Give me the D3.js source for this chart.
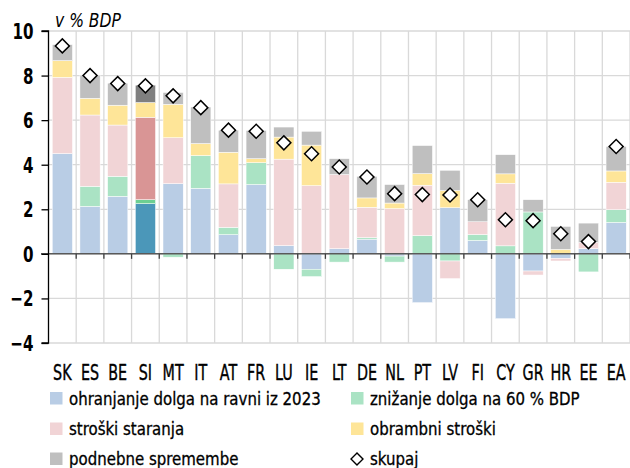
<!DOCTYPE html>
<html><head><meta charset="utf-8">
<script src="https://cdn.jsdelivr.net/npm/d3@7"></script>
<style>
html,body{margin:0;padding:0;background:#fff;}
svg{display:block;font-family:"DejaVu Sans Condensed","DejaVu Sans",sans-serif;}
</style></head>
<body><svg id="c" width="630" height="468"></svg>
<script>
const categories = ["SK","ES","BE","SI","MT","IT","AT","FR","LU","IE","LT","DE","NL","PT","LV","FI","CY","GR","HR","EE","EA"];
const debtStable = [4.50,2.13,2.58,2.25,3.15,2.94,0.86,3.11,0.37,-0.69,0.23,0.66,-0.10,-2.19,2.07,0.60,-2.91,-0.77,-0.20,0.24,1.41];
const debtTo60   = [0.00,0.90,0.90,0.18,-0.15,1.47,0.33,0.98,-0.69,-0.33,-0.37,0.07,-0.27,0.82,-0.32,0.27,0.36,1.88,0.00,-0.81,0.57];
const ageing     = [3.42,3.20,2.30,3.70,2.06,0.00,1.95,0.00,3.88,3.06,3.33,1.36,2.03,2.26,-0.79,0.57,2.81,-0.18,-0.12,0.27,1.23];
const defence    = [0.75,0.75,0.89,0.66,1.50,0.54,1.42,0.18,0.99,1.82,0.00,0.42,0.25,0.52,0.77,0.00,0.42,0.00,0.20,0.00,0.51];
const climate    = [0.72,1.04,0.99,0.78,0.53,1.64,0.99,1.27,0.45,0.62,0.71,0.97,0.83,1.26,0.91,0.99,0.86,0.55,1.03,0.87,1.10];
const totals     = [9.33,8.00,7.64,7.54,7.09,6.56,5.55,5.50,4.98,4.49,3.90,3.45,2.70,2.66,2.64,2.43,1.53,1.49,0.90,0.55,4.82];
const yTicks = [-4,-2,0,2,4,6,8,10];
const seriesNames = ["ohranjanje dolga na ravni iz 2023","znižanje dolga na 60 % BDP","stroški staranja","obrambni stroški","podnebne spremembe"];
const totalName = "skupaj";
const unitLabel = "v % BDP";
const highlight = "SI";

const keys = ["a","b","c","d","e"];
const colors = ["#b9cde5","#aae3c4","#f1d4d6","#fee598","#bfbfbf"];
const hiColors = ["#4b97b9","#6ccf92","#d99595","#fee598","#7f7f7f"];

const rows = categories.map((c,i)=>({cat:c,a:debtStable[i],b:debtTo60[i],c:ageing[i],d:defence[i],e:climate[i],total:totals[i]}));

const svg = d3.select("#c");
const pL = 48.5, pR = 630, pT = 31, pB = 343;
const x = d3.scaleBand().domain(categories).range([pL,pR]).paddingInner(0.27).paddingOuter(0.135);
const y = d3.scaleLinear().domain([-4,10]).range([pB,pT]);

function fitScale(sample, size, weight, style, target){
  const t = svg.append("text").attr("font-size",size).attr("font-weight",weight).attr("font-style",style).text(sample);
  const w = t.node().getComputedTextLength();
  t.remove();
  return w>0 ? Math.min(1.2, target/w) : 1;
}
const fX = fitScale("SK",21,"normal","normal",18.5);
const fY = fitScale("10",21,"bold","normal",21);
const fL = fitScale(seriesNames[0],18,"normal","normal",252);
const fU = fitScale(unitLabel,19,"normal","italic",66);

function placeText(sel, px, py, f){
  sel.attr("x",0).attr("y",0).attr("transform",`translate(${px},${py}) scale(${f},1)`);
}

// grid
const g = svg.append("g");
g.selectAll("line.h").data(yTicks).join("line")
  .attr("x1",pL).attr("x2",pR).attr("y1",d=>y(d)).attr("y2",d=>y(d))
  .attr("stroke","#d9d9d9").attr("stroke-width",1.3);
const step = x.step();
const bounds = d3.range(1,categories.length+1).map(i=>pL+i*step);
g.selectAll("line.v").data(bounds).join("line")
  .attr("x1",d=>d).attr("x2",d=>d).attr("y1",pT).attr("y2",pB)
  .attr("stroke","#d9d9d9").attr("stroke-width",1.3);

// stacks
const stack = d3.stack().keys(keys).offset(d3.stackOffsetDiverging);
const series = stack(rows);
series.forEach((s,si)=>{
  svg.append("g").selectAll("rect").data(s).join("rect")
    .attr("x",d=>x(d.data.cat))
    .attr("width",x.bandwidth())
    .attr("y",d=>y(Math.max(d[0],d[1])))
    .attr("height",d=>Math.abs(y(d[0])-y(d[1])))
    .attr("fill",d=>d.data.cat===highlight?hiColors[si]:colors[si])
    .attr("stroke","#fff").attr("stroke-width",0.5);
});

// zero axis
svg.append("line").attr("x1",41).attr("x2",pR).attr("y1",y(0)).attr("y2",y(0))
  .attr("stroke","#595959").attr("stroke-width",1.5);
svg.append("g").selectAll("line").data(bounds).join("line")
  .attr("x1",d=>d).attr("x2",d=>d).attr("y1",y(0)).attr("y2",y(0)+5)
  .attr("stroke","#404040").attr("stroke-width",1.3);

// y axis
const yAxis = d3.axisLeft(y).tickValues(yTicks).tickSize(7).tickPadding(8).tickFormat(d3.format("d"));
const ya = svg.append("g").attr("transform",`translate(${pL},0)`).call(yAxis);
ya.select(".domain").attr("stroke","#000").attr("stroke-width",1.3).attr("d",`M-7,${pT}H0V${pB}H-7`);
ya.selectAll(".tick line").attr("stroke","#000").attr("stroke-width",1.3);
ya.selectAll(".tick text").attr("font-size",21).attr("font-weight","bold").attr("fill","#000")
  .attr("font-family","'DejaVu Sans Condensed','DejaVu Sans',sans-serif")
  .attr("dy",null).attr("x",0).attr("y",0)
  .attr("transform",`translate(-15,7.5) scale(${fY},1)`);

// x labels
svg.append("g").selectAll("text").data(categories).join("text")
  .attr("text-anchor","middle").attr("font-size",21).attr("fill","#000")
  .attr("stroke","#000").attr("stroke-width",0.35).text(d=>d)
  .each(function(d){ placeText(d3.select(this), x(d)+x.bandwidth()/2, 380, fX); });

// diamonds
const diamond = d3.symbol().type(d3.symbolSquare).size(98);
svg.append("g").selectAll("path").data(rows).join("path")
  .attr("d",diamond)
  .attr("transform",d=>`translate(${x(d.cat)+x.bandwidth()/2},${y(d.total)}) rotate(45)`)
  .attr("fill","#fff").attr("stroke","#000").attr("stroke-width",1.5);

// unit label
placeText(svg.append("text").attr("font-size",19).attr("font-style","italic").attr("fill","#000").text(unitLabel), 55, 27, fU);

// legend
const legPos = [[50,404.5],[351,404.5],[50,435],[351,435],[50,465]];
const lg = svg.append("g");
seriesNames.forEach((n,i)=>{
  const [lx,ly] = legPos[i];
  lg.append("rect").attr("x",lx).attr("y",ly-12.5).attr("width",12.5).attr("height",12.5).attr("fill",colors[i]);
  placeText(lg.append("text").attr("font-size",18).attr("fill","#000")
    .attr("stroke","#000").attr("stroke-width",0.3).text(n), lx+19, ly, fL);
});
lg.append("path").attr("d",d3.symbol().type(d3.symbolSquare).size(72)())
  .attr("transform","translate(357,459) rotate(45)").attr("fill","#fff").attr("stroke","#000").attr("stroke-width",1.4);
placeText(lg.append("text").attr("font-size",18).attr("fill","#000")
  .attr("stroke","#000").attr("stroke-width",0.3).text(totalName), 370, 465, fL);
</script></body></html>
